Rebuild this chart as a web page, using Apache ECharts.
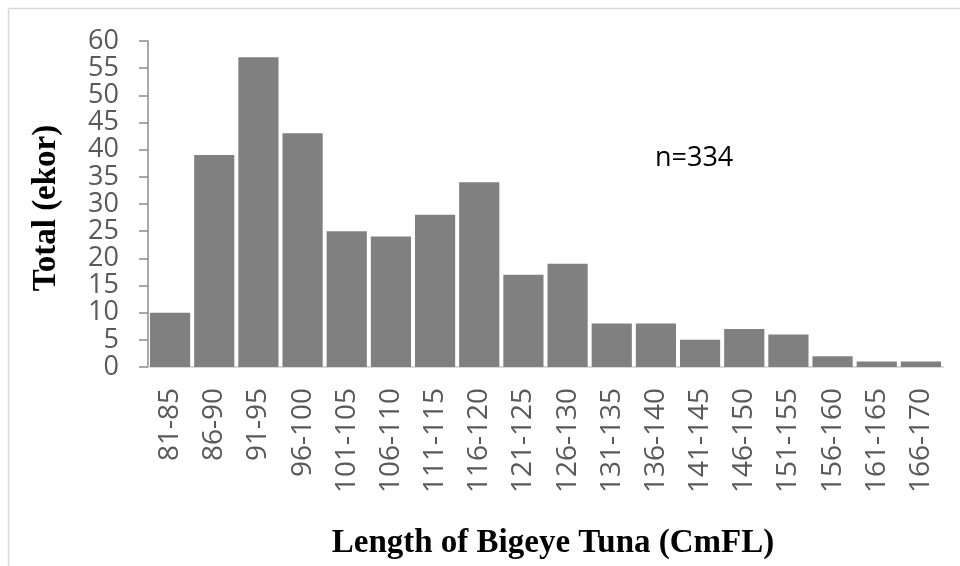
<!DOCTYPE html>
<html><head><meta charset="utf-8">
<script src="https://cdn.jsdelivr.net/npm/echarts@6/dist/echarts.min.js"></script>
<style>html,body{margin:0;padding:0;background:#fff}#c{width:960px;height:566px}</style>
</head><body><div id="c"></div>
<script>
const categories = ['81-85','86-90','91-95','96-100','101-105','106-110','111-115','116-120','121-125','126-130','131-135','136-140','141-145','146-150','151-155','156-160','161-165','166-170'];
const counts = [10,39,57,43,25,24,28,34,17,19,8,8,5,7,6,2,1,1];
const yTitle = 'Total (ekor)';
const xTitle = 'Length of Bigeye Tuna (CmFL)';
const note = 'n=334';

const chart = echarts.init(document.getElementById('c'), null, {renderer:'canvas'});
chart.setOption({
  animation:false,
  backgroundColor:'#fff',
  grid:{left:148,right:17,top:41,bottom:199},
  xAxis:{
    type:'category', data:categories,
    axisLine:{lineStyle:{color:'#d9d9d9',width:2}},
    axisTick:{show:false},
    axisLabel:{rotate:90,color:'#595959',fontSize:28,fontFamily:'Open Sans',margin:21,interval:0}
  },
  yAxis:{
    type:'value', min:0, max:60, interval:5, splitNumber:12,
    splitLine:{show:false},
    axisLine:{show:true,lineStyle:{color:'#8c8c8c',width:1.5}},
    axisTick:{show:true,length:9,interval:0,lineStyle:{color:'#8c8c8c',width:1.5}},
    axisLabel:{color:'#595959',fontSize:27,fontFamily:'Open Sans',margin:29,lineHeight:20,padding:0,
      interval:0,showMinLabel:true,showMaxLabel:true,hideOverlap:false}
  },
  series:[{
    type:'bar', data:counts, barCategoryGap:'9%',
    itemStyle:{color:'#808080'}
  }],
  graphic:[
    {type:'line',shape:{x1:8.5,y1:8.5,x2:960,y2:8.5},style:{stroke:'#d9d9d9',lineWidth:1.5}},
    {type:'line',shape:{x1:8.5,y1:8.5,x2:8.5,y2:566},style:{stroke:'#d9d9d9',lineWidth:1.5}},
    {type:'text',x:655,y:158,style:{text:note,fontSize:27,fontFamily:'Open Sans',fill:'#000',verticalAlign:'middle'}},
    {type:'text',x:46,y:208,rotation:Math.PI/2,style:{text:yTitle,fontSize:33,fontWeight:'bold',fontFamily:'Liberation Serif',fill:'#000',align:'center',verticalAlign:'middle'}},
    {type:'text',x:553,y:543,style:{text:xTitle,fontSize:33,fontWeight:'bold',fontFamily:'Liberation Serif',fill:'#000',align:'center',verticalAlign:'middle'}}
  ]
});
</script></body></html>
